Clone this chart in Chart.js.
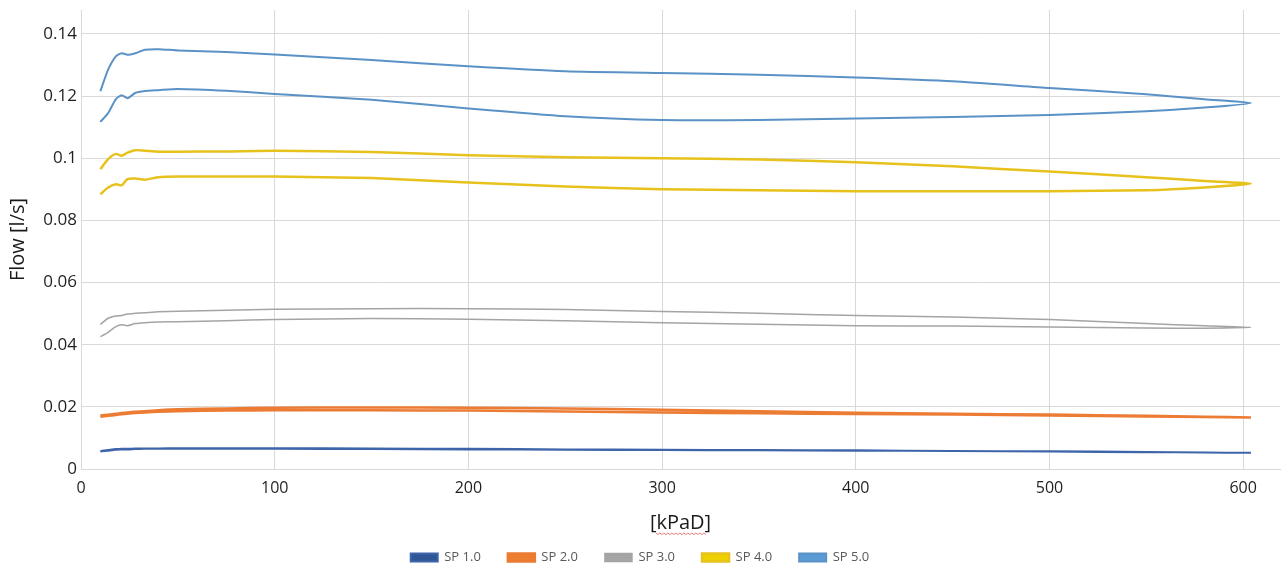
<!DOCTYPE html>
<html>
<head>
<meta charset="utf-8">
<script src="https://cdn.jsdelivr.net/npm/chart.js@4/dist/chart.umd.min.js"></script>
<style>
  html, body { margin: 0; padding: 0; background: #fff; }
  #wrap { width: 1286px; height: 568px; }
</style>
</head>
<body>
<div id="wrap"><canvas id="myChart"></canvas></div>
<script>
// pressure points [kPaD] shared by every branch
const pressure = [10, 14, 18, 21, 24, 28, 33, 40, 50, 75, 100, 150, 200, 250, 300, 350, 400, 450, 500, 550, 580, 604];

// flow [l/s], lower and upper branch of each loop
const sp1Low = [0.0056, 0.0059, 0.0062, 0.0063, 0.0063, 0.0064, 0.0065, 0.0065, 0.0065, 0.0065, 0.0065, 0.0064, 0.0063, 0.0062, 0.0061, 0.0060, 0.0059, 0.0058, 0.0056, 0.0054, 0.0053, 0.0052];
const sp1Up  = [0.0058, 0.0061, 0.0064, 0.0065, 0.0065, 0.0066, 0.0066, 0.0066, 0.0067, 0.0067, 0.0067, 0.0066, 0.0065, 0.0063, 0.0062, 0.0061, 0.0060, 0.0058, 0.0057, 0.0055, 0.0053, 0.0052];

const sp2Low = [0.0168, 0.0171, 0.0174, 0.0176, 0.0178, 0.0180, 0.0182, 0.0184, 0.0186, 0.0188, 0.0189, 0.0189, 0.0188, 0.0185, 0.0182, 0.0179, 0.0177, 0.0175, 0.0172, 0.0169, 0.0167, 0.0166];
const sp2Up  = [0.0172, 0.0175, 0.0178, 0.0180, 0.0182, 0.0184, 0.0186, 0.0189, 0.0192, 0.0195, 0.0197, 0.0198, 0.0197, 0.0195, 0.0191, 0.0186, 0.0181, 0.0178, 0.0175, 0.0171, 0.0168, 0.0166];

const sp3Low = [0.0426, 0.0440, 0.0458, 0.0464, 0.0461, 0.0468, 0.0471, 0.0473, 0.0474, 0.0477, 0.0481, 0.0484, 0.0482, 0.0477, 0.0471, 0.0466, 0.0461, 0.0460, 0.0457, 0.0454, 0.0453, 0.0456];
const sp3Up  = [0.0465, 0.0485, 0.0492, 0.0494, 0.0499, 0.0501, 0.0503, 0.0506, 0.0508, 0.0511, 0.0514, 0.0516, 0.0516, 0.0513, 0.0507, 0.0501, 0.0494, 0.0489, 0.0481, 0.0468, 0.0461, 0.0456];

const sp4Low = [0.0884, 0.0906, 0.0916, 0.0913, 0.0933, 0.0935, 0.0931, 0.0939, 0.0941, 0.0941, 0.0941, 0.0936, 0.0922, 0.0909, 0.0900, 0.0897, 0.0894, 0.0894, 0.0894, 0.0897, 0.0906, 0.0918];
const sp4Up  = [0.0965, 0.0997, 0.1014, 0.1008, 0.1018, 0.1026, 0.1024, 0.1021, 0.1021, 0.1022, 0.1024, 0.1020, 0.1010, 0.1003, 0.1000, 0.0996, 0.0987, 0.0974, 0.0957, 0.0939, 0.0927, 0.0918];

const sp5Low = [0.1117, 0.1145, 0.1190, 0.1203, 0.1193, 0.1210, 0.1216, 0.1219, 0.1223, 0.1217, 0.1207, 0.1188, 0.1160, 0.1135, 0.1123, 0.1123, 0.1128, 0.1133, 0.1139, 0.1151, 0.1163, 0.1178];
const sp5Up  = [0.1216, 0.1285, 0.1328, 0.1338, 0.1333, 0.1338, 0.1349, 0.1351, 0.1347, 0.1342, 0.1334, 0.1316, 0.1296, 0.1280, 0.1274, 0.1269, 0.1260, 0.1248, 0.1226, 0.1206, 0.1190, 0.1178];

const seriesNames = ['SP 1.0', 'SP 2.0', 'SP 3.0', 'SP 4.0', 'SP 5.0'];
const yTicks = [0, 0.02, 0.04, 0.06, 0.08, 0.1, 0.12, 0.14];
const xTicks = [0, 100, 200, 300, 400, 500, 600];

const lineColors = ['#3E65AA', '#EC7B33', '#A4A4A4', '#E8C21C', '#5A92C6'];
const boxColors  = ['#2F5597', '#ED7D31', '#A5A5A5', '#EDD000', '#5B9BD5'];
const widths = [2, 2.5, 1.5, 2.5, 2];

// one closed loop: lower branch going up, upper branch coming back
function loop(low, up) {
	let pts = [];
	for (let i = 0; i < pressure.length; i++) pts.push({x: pressure[i], y: low[i]});
	for (let i = pressure.length - 2; i >= 0; i--) pts.push({x: pressure[i], y: up[i]});
	return pts;
}

const branches = [[sp1Low, sp1Up], [sp2Low, sp2Up], [sp3Low, sp3Up], [sp4Low, sp4Up], [sp5Low, sp5Up]];

Chart.defaults.font.family = "'Open Sans', sans-serif";
Chart.defaults.color = '#262626';

const gridColor = '#D9D9D9';

// spell check squiggle under the x axis title, as in the source picture
const squiggle = {
	id: 'squiggle',
	afterDraw(chart) {
		const c = chart.ctx;
		const xs = chart.scales.x;
		c.save();
		c.font = "20px 'Open Sans', sans-serif";
		const w = c.measureText('[kPaD]').width - 12;
		const cx = (xs.left + xs.right) / 2;
		let x0 = cx - w / 2, y0 = xs.bottom + 9;
		c.strokeStyle = '#E06060';
		c.lineWidth = 0.8;
		c.beginPath();
		c.moveTo(x0, y0);
		for (let x = x0, k = 0; x < x0 + w; x += 2, k++) c.lineTo(x + 2, y0 + (k % 2 ? 0 : 1.6));
		c.stroke();
		c.restore();
	}
};

const legendSize = {
	id: 'legendSize',
	beforeInit(chart) {
		const orig = chart.legend.fit;
		chart.legend.fit = function() {
			orig.bind(chart.legend)();
			this.height = 44;
		};
	}
};

let ctx = document.getElementById('myChart').getContext('2d');

let chart = new Chart(ctx, {
	type: 'scatter',
	data: {
		datasets: branches.map(function(b, i) {
			return {
				label: seriesNames[i],
				data: loop(b[0], b[1]),
				showLine: true,
				borderColor: lineColors[i],
				backgroundColor: boxColors[i],
				borderWidth: widths[i],
				pointRadius: 0,
				tension: 0.2
			};
		})
	},
	options: {
		responsive: true,
		maintainAspectRatio: false,
		animation: false,
		layout: { padding: { left: 0, right: 6, top: 10, bottom: 0 } },
		plugins: {
			tooltip: { enabled: false },
			legend: {
				position: 'bottom',
				labels: {
					boxWidth: 27,
					boxHeight: 8,
					padding: 27,
					color: '#595959',
					font: { size: 13 }
				}
			}
		},
		scales: {
			x: {
				type: 'linear',
				min: 0,
				max: 619,
				afterBuildTicks: function(s) { s.ticks = xTicks.map(v => ({value: v})); },
				afterFit: function(s) { s.paddingLeft = 0; s.paddingRight = 0; s.height = 55; },
				grid: { color: gridColor, lineWidth: 1, drawTicks: false },
				border: { color: gridColor },
				ticks: { padding: 10, font: { size: 16 }, color: '#1F1F1F', maxRotation: 0 },
				title: { display: true, text: '[kPaD]', font: { size: 20 }, color: '#1A1A1A', padding: { top: 13, bottom: -11 } }
			},
			y: {
				min: 0,
				max: 0.1477,
				afterBuildTicks: function(s) { s.ticks = yTicks.map(v => ({value: v})); },
				afterFit: function(s) { s.paddingTop = 0; s.paddingBottom = 0; s.width = 81; },
				grid: { color: gridColor, lineWidth: 1, drawTicks: false },
				border: { color: gridColor },
				ticks: {
					padding: 4,
					font: { size: 17 },
					color: '#1F1F1F',
					callback: function(v) { return String(Math.round(v * 100) / 100); }
				},
				title: { display: true, text: 'Flow [l/s]', font: { size: 20 }, color: '#1A1A1A', padding: { top: 6, bottom: 0 } }
			}
		}
	},
	plugins: [legendSize, squiggle]
});
</script>
</body>
</html>
